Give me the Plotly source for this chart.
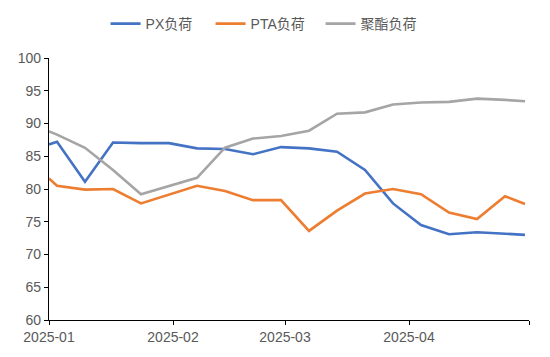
import plotly.graph_objects as go

dates = ["2025-01-01", "2025-01-03", "2025-01-10", "2025-01-17", "2025-01-24", "2025-01-31",
         "2025-02-07", "2025-02-14", "2025-02-21", "2025-02-28", "2025-03-07", "2025-03-14",
         "2025-03-21", "2025-03-28", "2025-04-04", "2025-04-11", "2025-04-18", "2025-04-25",
         "2025-04-30"]
px_load = [86.8, 87.2, 81.1, 87.1, 87.0, 87.0, 86.2, 86.1, 85.3, 86.4, 86.2, 85.7,
           82.9, 77.8, 74.5, 73.1, 73.4, 73.2, 73.0]
pta_load = [81.6, 80.5, 79.9, 80.0, 77.8, 79.1, 80.5, 79.7, 78.3, 78.3, 73.6, 76.7,
            79.3, 80.0, 79.2, 76.4, 75.4, 78.9, 77.7]
poly_load = [88.8, 88.3, 86.3, 82.9, 79.2, 80.4, 81.7, 86.3, 87.7, 88.1, 88.9, 91.5,
             91.7, 92.9, 93.2, 93.3, 93.8, 93.6, 93.4]
series_names = ["PX负荷", "PTA负荷", "聚酯负荷"]
colors = ["#4472C4", "#ED7D31", "#A5A5A5"]
y_ticks = [60, 65, 70, 75, 80, 85, 90, 95, 100]
x_tick_dates = ["2025-01-01", "2025-02-01", "2025-03-01", "2025-04-01", "2025-05-01"]
x_tick_labels = ["2025-01", "2025-02", "2025-03", "2025-04", ""]
legend_widths = [60, 65, None]

fig = go.Figure()
for name, vals, c, lw in zip(series_names, [px_load, pta_load, poly_load], colors, legend_widths):
    tr = go.Scatter(x=dates, y=vals, name=name, mode="lines",
                    line=dict(color=c, width=2.6))
    if lw:
        tr.legendwidth = lw
    fig.add_trace(tr)

font_family = "Liberation Sans, Arial, Noto Sans CJK SC, sans-serif"
fig.update_layout(
    width=550, height=357,
    margin=dict(l=41, r=29, t=50, b=45, autoexpand=False),
    paper_bgcolor="white", plot_bgcolor="white",
    font=dict(family=font_family, size=14, color="#595959"),
    legend=dict(orientation="h", x=0.447, xanchor="center", y=1.0, yanchor="top",
                yref="container", font=dict(size=14, color="#595959"),
                tracegroupgap=0),
    showlegend=True,
)
fig.update_xaxes(
    type="date", range=["2025-01-01", "2025-05-01"],
    tickvals=x_tick_dates, ticktext=x_tick_labels,
    ticks="outside", ticklen=4, tickcolor="#000000",
    showline=True, linecolor="#000000", linewidth=1.2,
    showgrid=False, zeroline=False, automargin=False,
    tickfont=dict(size=14, color="#595959"),
)
fig.update_yaxes(
    range=[60, 100], tickvals=y_ticks,
    ticks="outside", ticklen=4, tickcolor="#000000",
    showline=True, linecolor="#000000", linewidth=1.2,
    showgrid=False, zeroline=False, automargin=False,
    tickfont=dict(size=14, color="#595959"),
)
fig.write_html("out.html")
